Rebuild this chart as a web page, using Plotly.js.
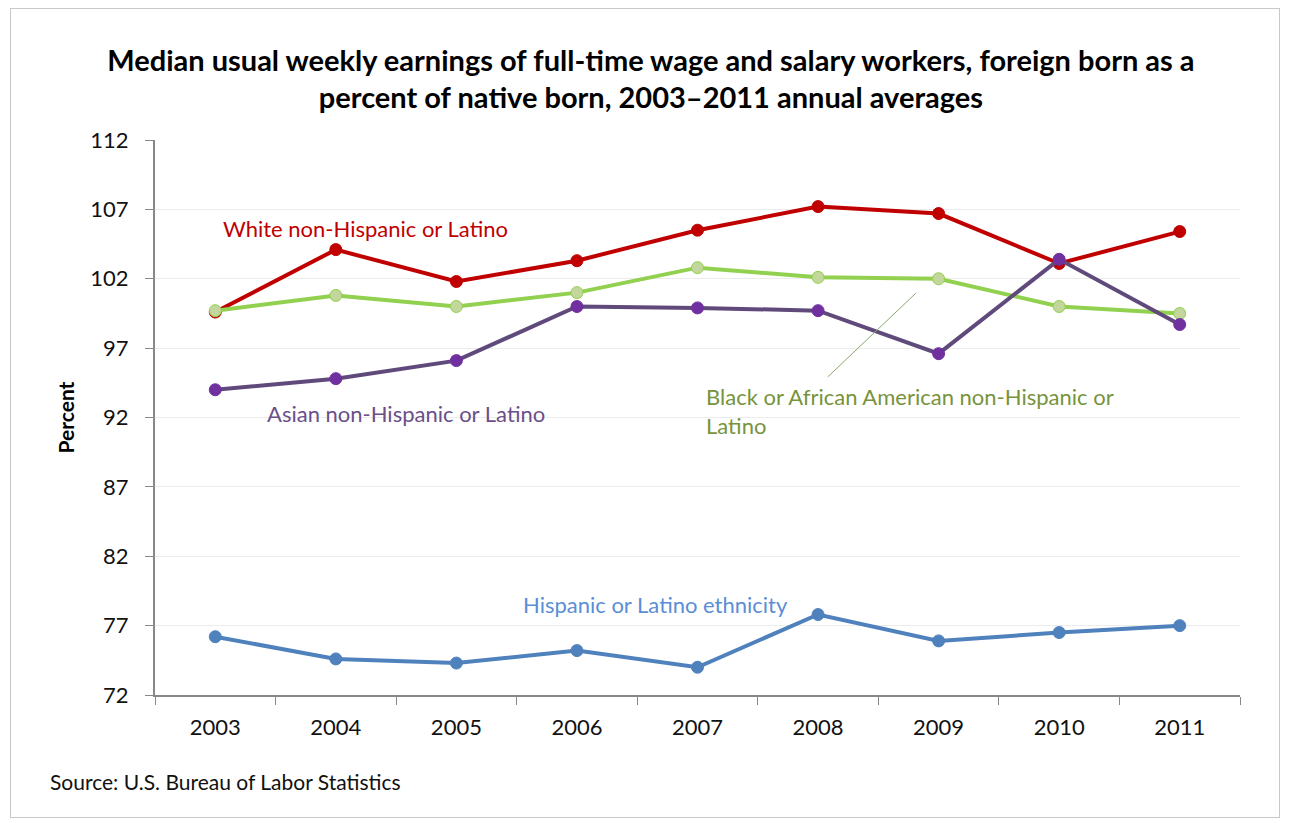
<!DOCTYPE html>
<html>
<head>
<meta charset="utf-8">
<script src="https://cdn.plot.ly/plotly-3.0.1.min.js"></script>
<style>
  html, body { margin: 0; padding: 0; background: #fff; }
  #frame { position: absolute; left: 10px; top: 8px; width: 1268px; height: 808px; border: 1px solid #c8c8c8; }
  #chart { width: 1289px; height: 823px; }
</style>
</head>
<body>
<div id="frame"></div>
<div id="chart"></div>
<script>
// Years and series (percent of native born)
const years = ['2003', '2004', '2005', '2006', '2007', '2008', '2009', '2010', '2011'];
const white = [99.6, 104.1, 101.8, 103.3, 105.5, 107.2, 106.7, 103.1, 105.4];
const black = [99.7, 100.8, 100.0, 101.0, 102.8, 102.1, 102.0, 100.0, 99.5];
const asian = [94.0, 94.8, 96.1, 100.0, 99.9, 99.7, 96.6, 103.4, 98.7];
const hispanic = [76.2, 74.6, 74.3, 75.2, 74.0, 77.8, 75.9, 76.5, 77.0];
const yTicks = [72, 77, 82, 87, 92, 97, 102, 107, 112];

const font = 'Lato, "Open Sans", sans-serif';

function series(name, ys, lineColor, markerColor, markerLine) {
    return {
        x: years,
        y: ys,
        name: name,
        mode: 'lines+markers',
        line: {color: lineColor, width: 4},
        marker: {size: 12, color: markerColor, line: {color: markerLine, width: 1}}
    };
}

// drawing order: white under black at 2003, asian on top
const traces = [
    series('Hispanic or Latino ethnicity', hispanic, '#4f81bd', '#4f81bd', '#4f81bd'),
    series('White non-Hispanic or Latino', white, '#c00000', '#c00000', '#c00000'),
    series('Black or African American non-Hispanic or Latino', black, '#92d050', '#c3d69b', '#92d050'),
    series('Asian non-Hispanic or Latino', asian, '#604a7b', '#7030a0', '#7030a0')
];

const layout = {
    width: 1289,
    height: 823,
    paper_bgcolor: 'rgba(0,0,0,0)',
    plot_bgcolor: '#fff',
    showlegend: false,
    margin: {l: 155, r: 49, t: 140, b: 128},
    font: {family: font, color: '#000'},
    title: {
        text: '<b>Median usual weekly earnings of full-time wage and salary workers, foreign born as a<br>percent of native born, 2003\u20132011 annual averages</b>',
        font: {size: 29, family: font, color: '#000'},
        x: 0.505, xanchor: 'center',
        y: 0.914, yanchor: 'top'
    },
    xaxis: {
        type: 'category',
        range: [-0.5, 8.5],
        tickson: 'boundaries',
        ticks: 'outside',
        ticklen: 8,
        tickcolor: '#888',
        showline: true,
        linecolor: '#888',
        linewidth: 2,
        showgrid: false,
        tickfont: {size: 22, color: '#111'},
        ticklabelstandoff: 12
    },
    yaxis: {
        range: [72, 112],
        tickvals: yTicks,
        ticks: 'outside',
        ticklen: 8,
        tickcolor: '#888',
        showline: true,
        linecolor: '#888',
        linewidth: 2,
        gridcolor: '#ececec',
        zeroline: false,
        tickfont: {size: 22, color: '#111'},
        ticklabelstandoff: 12,
        title: {text: '<b>Percent</b>', font: {size: 21}, standoff: 10}
    },
    shapes: [
        {type: 'line', xref: 'x', yref: 'y', x0: 5.81, y0: 100.95, x1: 5.08, y1: 94.92,
         line: {color: '#8aa86a', width: 1}}
    ],
    annotations: [
        {x: 1.25, y: 105.6, xref: 'x', yref: 'y', text: 'White non-Hispanic or Latino', showarrow: false,
         font: {size: 22, color: '#c00000'}},
        {x: 1.58, y: 92.3, xref: 'x', yref: 'y', text: 'Asian non-Hispanic or Latino', showarrow: false,
         font: {size: 22, color: '#6a4f8a'}},
        {x: 4.05, y: 94.6, xref: 'x', yref: 'y', text: 'Black or African American non-Hispanic or<br>Latino',
         showarrow: false, align: 'left', xanchor: 'left', yanchor: 'top',
         font: {size: 22, color: '#77933c'}},
        {x: 3.65, y: 78.5, xref: 'x', yref: 'y', text: 'Hispanic or Latino ethnicity', showarrow: false,
         font: {size: 22, color: '#5b8ed6'}},
        {x: 0, y: -0.13, xref: 'paper', yref: 'paper', xanchor: 'left', yanchor: 'top', xshift: -107,
         text: 'Source: U.S. Bureau of Labor Statistics', showarrow: false, font: {size: 21, color: '#111'}}
    ]
};

Plotly.newPlot('chart', traces, layout, {staticPlot: true});
</script>
</body>
</html>
